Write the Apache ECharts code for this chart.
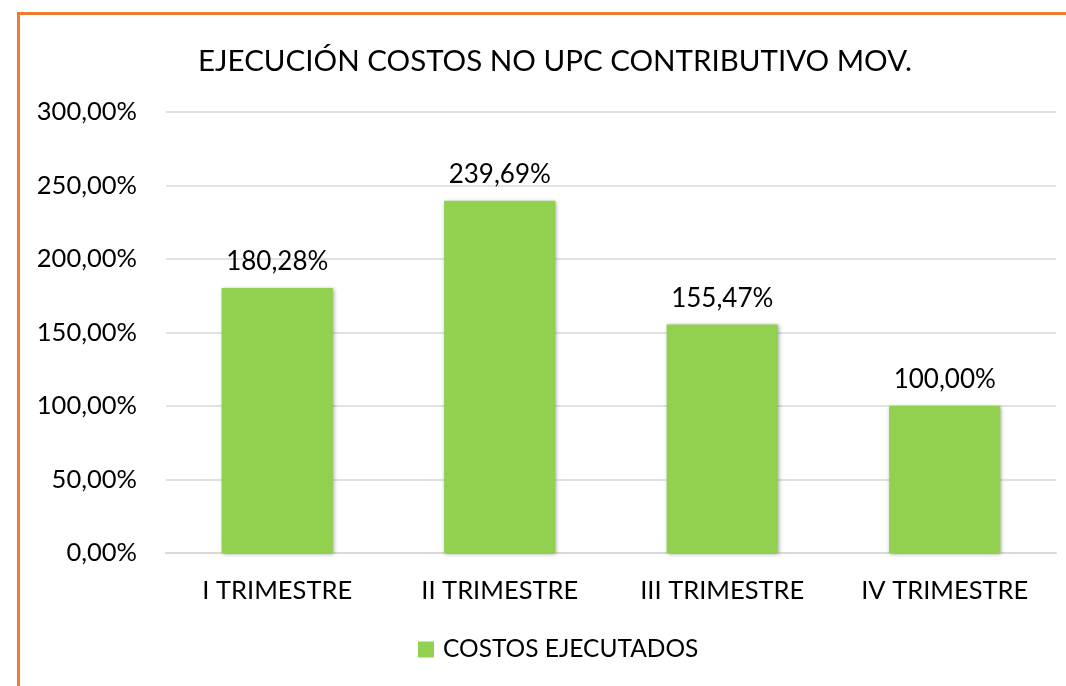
<!DOCTYPE html>
<html>
<head>
<meta charset="utf-8">
<script src="https://cdn.jsdelivr.net/npm/echarts@6/dist/echarts.min.js"></script>
<style>
  html, body { margin: 0; padding: 0; background: #fff; }
  #frame {
    position: absolute; left: 17px; top: 12px; width: 1049px; height: 674px;
    border-left: 3px solid #ED7D31; border-top: 3px solid #ED7D31;
    box-sizing: border-box;
  }
  #main { position: absolute; left: 0; top: 0; width: 1066px; height: 686px; }
</style>
</head>
<body>
<div id="frame"></div>
<div id="main"></div>
<script>
// datos del grafico
var categorias = ['I TRIMESTRE', 'II TRIMESTRE', 'III TRIMESTRE', 'IV TRIMESTRE'];
var costosEjecutados = [180.28, 239.69, 155.47, 100.00];
var serieNombre = 'COSTOS EJECUTADOS';

var fuente = 'Lato, "Open Sans", sans-serif';

function pct(v) {
    return v.toFixed(2).replace('.', ',') + '%';
}

var myChart = echarts.init(document.getElementById('main'));
var option = {
    backgroundColor: 'transparent',
    title: {
        text: 'EJECUCIÓN COSTOS NO UPC CONTRIBUTIVO MOV.',
        left: 550,
        textAlign: 'center',
        top: 41,
        textStyle: {
            fontFamily: fuente,
            fontSize: 29.5,
            fontWeight: 'normal',
            color: '#000'
        }
    },
    legend: {
        bottom: 19,
        left: 413,
        itemWidth: 16,
        itemHeight: 16,
        itemGap: 10,
        icon: 'rect',
        textStyle: {
            fontFamily: fuente,
            fontSize: 24.5,
            color: '#000',
            padding: [0, 0, 0, 4]
        },
        data: [serieNombre]
    },
    grid: {
        left: 166,
        right: 10,
        top: 112,
        bottom: 133
    },
    xAxis: {
        type: 'category',
        data: categorias,
        axisLine: { lineStyle: { color: '#d9d9d9', width: 2 } },
        axisTick: { show: false },
        axisLabel: {
            margin: 25,
            fontFamily: fuente,
            fontSize: 25.5,
            color: '#000'
        }
    },
    yAxis: {
        type: 'value',
        min: 0,
        max: 300,
        interval: 50,
        axisLine: { show: false },
        axisTick: { show: false },
        axisLabel: {
            margin: 29,
            fontFamily: fuente,
            fontSize: 25.5,
            color: '#000',
            formatter: function (v) { return pct(v); }
        },
        splitLine: { lineStyle: { color: '#d9d9d9', width: 1.5 } }
    },
    series: [
        {
            name: serieNombre,
            type: 'bar',
            barWidth: '50%',
            data: costosEjecutados,
            itemStyle: {
                color: '#92D050',
                shadowColor: 'rgba(0,0,0,0.35)',
                shadowBlur: 4,
                shadowOffsetX: 1,
                shadowOffsetY: 1
            },
            label: {
                show: true,
                position: 'top',
                distance: 13,
                fontFamily: fuente,
                fontSize: 26,
                color: '#000',
                formatter: function (p) { return pct(p.value); }
            }
        }
    ]
};
myChart.setOption(option);
</script>
</body>
</html>
